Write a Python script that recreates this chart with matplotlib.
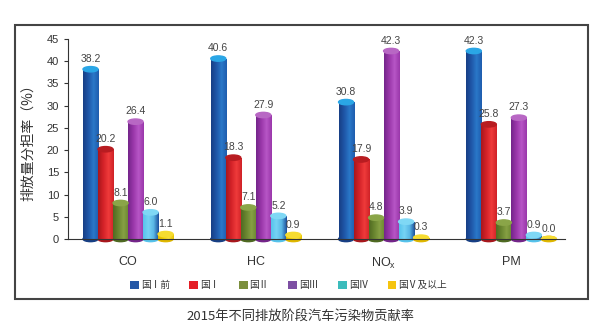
import numpy as np
import matplotlib
matplotlib.use('Agg')
import matplotlib.pyplot as plt
from matplotlib.colors import LinearSegmentedColormap
from matplotlib.patches import Ellipse, Rectangle, Patch

plt.rcParams['font.family'] = ['Liberation Sans', 'Noto Sans CJK SC', 'DejaVu Sans']

# data
pollutants = ['CO', 'HC', 'NO$_\\mathregular{x}$', 'PM']
stages = ['国Ⅰ前', '国Ⅰ', '国Ⅱ', '国Ⅲ', '国Ⅳ', '国Ⅴ及以上']
pre_1 = [38.2, 40.6, 30.8, 42.3]
stage_1 = [20.2, 18.3, 17.9, 25.8]
stage_2 = [8.1, 7.1, 4.8, 3.7]
stage_3 = [26.4, 27.9, 42.3, 27.3]
stage_4 = [6.0, 5.2, 3.9, 0.9]
stage_5 = [1.1, 0.9, 0.3, 0.0]
values = [pre_1, stage_1, stage_2, stage_3, stage_4, stage_5]

# cylinder shading (left -> right) and cap colour per stage
shades = [
    (['#173f85', '#1f56a8', '#2a78c8', '#1f5cae'], '#2aa6e6'),
    (['#a8171c', '#d42228', '#ef3b3b', '#cf2227'], '#b81c21'),
    (['#4f6a22', '#6a8630', '#86a044', '#6a8630'], '#8aa548'),
    (['#74258a', '#9a37aa', '#b756c6', '#9a37aa'], '#b867c4'),
    (['#56c3ec', '#76d3f4', '#5ab8e6', '#1c4f9c'], '#7fd8f5'),
    (['#e0b800', '#f2d000', '#f8e040', '#e8c400'], '#f6dc30'),
]
legend_colors = ['#2457a6', '#e41e26', '#7b8f3d', '#7d4fa3', '#3cbcbc', '#f5c40f']

fig = plt.figure(figsize=(6.14, 3.27), dpi=100)
ax = fig.add_axes([68 / 614, 1 - 239 / 327, 497 / 614, 200 / 327])

x = np.arange(len(pollutants))
w = 0.1175
cap_h = 1.2
grad = np.linspace(0, 1, 64).reshape(1, -1)

for i, vals in enumerate(values):
    body, cap = shades[i]
    cmap = LinearSegmentedColormap.from_list('s%d' % i, body)
    xs = x + (i - 2.5) * w
    bars = ax.bar(xs, vals, w, color=body[1], linewidth=0, zorder=2)
    for b, xc, v in zip(bars, xs, vals):
        im = ax.imshow(grad, extent=[xc - w / 2, xc + w / 2, 0, max(v, 0.05)],
                       aspect='auto', cmap=cmap, zorder=2.1)
        im.set_clip_path(b)
        ax.add_patch(Ellipse((xc, 0), w, cap_h, color=body[0], zorder=1.9, clip_on=False))
        ax.add_patch(Ellipse((xc, v), w, cap_h, color=cap, zorder=2.3))
        ax.text(xc, v + cap_h / 2 + 0.6, '%.1f' % v, ha='center', va='bottom',
                fontsize=7.5, color='#444444', zorder=3)

ax.set_xlim(-0.47, 3.42)
ax.set_ylim(0, 45)
ax.set_yticks(range(0, 46, 5))
ax.set_xticks(x)
ax.set_xticklabels(pollutants, fontsize=9, color='#333333')
ax.tick_params(axis='x', length=0, pad=12)
ax.tick_params(axis='y', labelsize=8, colors='#333333', length=3, direction='out')
for s in ['top', 'right']:
    ax.spines[s].set_visible(False)
for s in ['left', 'bottom']:
    ax.spines[s].set_color('#333333')
ax.set_ylabel('排放量分担率（%）', fontsize=10, color='#333333',
             family=['Noto Sans CJK SC', 'DejaVu Sans'])
ax.yaxis.set_label_coords(-0.066, 0.5)

handles = [Patch(facecolor=c, edgecolor='none') for c in legend_colors]
fig.legend(handles, stages, loc='center', bbox_to_anchor=(0.47, 1 - 285 / 327),
           ncol=6, frameon=False, fontsize=7, handlelength=0.9, handleheight=0.9,
           handletextpad=0.2, columnspacing=2.0, labelcolor='#333333')

fig.patches.append(Rectangle((15 / 614, 1 - 299 / 327), 573 / 614, 274 / 327,
                             transform=fig.transFigure, fill=False,
                             edgecolor='#444444', linewidth=1.5))

fig.text(0.49, 1 - 316 / 327, '2015年不同排放阶段汽车污染物贡献率', ha='center', va='center',
         fontsize=9.5, color='#333333', family=['Noto Sans CJK SC', 'DejaVu Sans'])

fig.savefig('out.png', dpi=100)
